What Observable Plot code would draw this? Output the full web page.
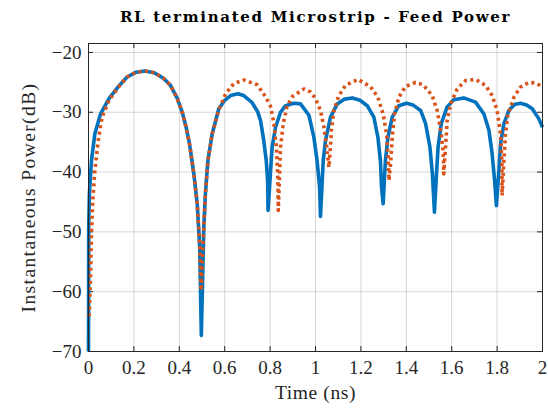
<!DOCTYPE html>
<html>
<head>
<meta charset="utf-8">
<script src="https://cdn.jsdelivr.net/npm/d3@7"></script>
<script src="https://cdn.jsdelivr.net/npm/@observablehq/plot@0.6"></script>
<style>
  html, body { margin: 0; padding: 0; background: #fff; }
  #chart svg { display: block; }
</style>
</head>
<body>
<div id="chart"></div>
<script>
const titleText = "RL terminated Microstrip - Feed Power";
const xLabel = "Time (ns)";
const yLabel = "Instantaneous Power(dB)";
const xTicks = [0, 0.2, 0.4, 0.6, 0.8, 1, 1.2, 1.4, 1.6, 1.8, 2];
const yTicks = [-70, -60, -50, -40, -30, -20];

// Blue (solid) series: time (ns), power (dB)
const blueTime = [0, 0.001, 0.004, 0.013, 0.028, 0.053, 0.09, 0.134, 0.17, 0.21, 0.248, 0.29, 0.33, 0.361, 0.39, 0.413, 0.43, 0.445, 0.464, 0.479, 0.49, 0.497,
  0.508, 0.515, 0.526, 0.545, 0.574, 0.6, 0.626, 0.658, 0.684, 0.721, 0.745, 0.758, 0.772, 0.783, 0.789, 0.791,
  0.809, 0.824, 0.846, 0.868, 0.904, 0.934, 0.971, 0.993, 1.007, 1.018, 1.022,
  1.034, 1.044, 1.066, 1.096, 1.128, 1.162, 1.196, 1.228, 1.257, 1.275, 1.286, 1.291, 1.298,
  1.308, 1.319, 1.338, 1.367, 1.401, 1.43, 1.463, 1.485, 1.504, 1.515, 1.524,
  1.533, 1.54, 1.554, 1.58, 1.609, 1.653, 1.705, 1.742, 1.764, 1.778, 1.789, 1.797,
  1.808, 1.815, 1.83, 1.852, 1.876, 1.903, 1.93, 1.955, 1.984, 2.0];
const bluePower = [-70, -49, -43.6, -38.1, -33.6, -30.3, -27.7, -25.6, -24.1, -23.3, -23.1, -23.4, -24.3, -25.5, -27.6, -30.0, -32.5, -35.3, -40.3, -45.3, -52.6, -67.3,
  -49.2, -43.6, -38.1, -33.6, -29.4, -28.0, -27.2, -26.9, -27.2, -28.4, -29.9, -31.4, -34.7, -38.1, -41.4, -46.4,
  -35.8, -32.5, -30.0, -28.9, -28.5, -28.6, -30.5, -34.2, -38.1, -42.5, -47.4,
  -38.1, -34.7, -30.8, -28.6, -27.8, -27.6, -28.0, -28.9, -30.8, -34.2, -38.1, -42.5, -45.3,
  -38.1, -34.2, -30.8, -28.9, -28.5, -28.8, -29.7, -31.9, -35.8, -40.3, -46.7,
  -40.3, -35.8, -31.9, -29.1, -27.9, -27.6, -28.3, -30.3, -33.0, -36.9, -41.4, -45.6,
  -39.7, -35.3, -31.9, -29.7, -28.7, -28.5, -28.8, -29.4, -31.1, -32.5];

// Orange (dotted) series: time (ns), power (dB)
const orangeTime = [0.003, 0.009, 0.013, 0.019, 0.028, 0.043, 0.06, 0.09, 0.134, 0.17, 0.21, 0.248, 0.29, 0.33, 0.361, 0.39, 0.413, 0.43, 0.445, 0.464, 0.479, 0.49, 0.496,
  0.508, 0.515, 0.526, 0.545, 0.574, 0.604, 0.64, 0.684, 0.743, 0.78, 0.802, 0.816, 0.828, 0.834, 0.836,
  0.846, 0.858, 0.875, 0.9, 0.949, 0.978, 1.0, 1.022, 1.037, 1.048, 1.059,
  1.066, 1.07, 1.081, 1.103, 1.132, 1.187, 1.242, 1.275, 1.298, 1.313, 1.32, 1.324,
  1.333, 1.338, 1.348, 1.367, 1.396, 1.441, 1.474, 1.514, 1.536, 1.554, 1.563, 1.565,
  1.573, 1.58, 1.595, 1.624, 1.661, 1.705, 1.749, 1.778, 1.8, 1.815, 1.821, 1.822,
  1.83, 1.837, 1.847, 1.874, 1.903, 1.94, 1.969, 1.998];
const orangePower = [-64.1, -57.6, -50.3, -44.7, -39.7, -34.7, -30.8, -28.0, -25.7, -24.1, -23.3, -23.1, -23.4, -24.3, -25.5, -27.6, -30.0, -32.5, -35.3, -40.3, -45.3, -52.6, -59.8,
  -49.2, -43.6, -38.1, -33.6, -29.6, -26.9, -25.2, -24.6, -25.4, -27.4, -29.0, -31.6, -36.0, -40.8, -46.4,
  -35.8, -31.9, -28.9, -27.3, -26.1, -26.6, -27.7, -29.7, -32.5, -35.3, -39.2,
  -35.8, -33.0, -29.7, -27.2, -25.5, -24.5, -25.7, -27.5, -30.3, -33.6, -37.5, -41.4,
  -37.5, -34.2, -30.3, -27.5, -25.7, -25.0, -25.4, -27.2, -29.7, -33.6, -36.9, -40.3,
  -35.8, -31.4, -28.6, -26.1, -24.7, -24.5, -25.5, -27.2, -29.7, -33.6, -38.1, -43.9,
  -38.1, -33.6, -30.5, -27.5, -25.8, -25.0, -25.1, -25.7];

const blue = blueTime.map((t, i) => ({t, p: bluePower[i]}));
const orange = orangeTime.map((t, i) => ({t, p: orangePower[i]}));

const serif = "'Liberation Serif', serif";
const minus = d => d < 0 ? "\u2212" + Math.abs(d) : String(d);
const W = 548, H = 408, mT = 43, mB = 57, mL = 88, mR = 6;
const frameH = H - mT - mB, frameW = W - mL - mR;
const tickLen = 5;

const chart = Plot.plot({
  width: W,
  height: H,
  marginTop: mT,
  marginBottom: mB,
  marginLeft: mL,
  marginRight: mR,
  style: {fontFamily: serif, background: "#fff", overflow: "visible"},
  x: {domain: [0, 2], ticks: xTicks},
  y: {domain: [-70, -18.5], ticks: yTicks},
  marks: [
    Plot.gridX(xTicks, {stroke: "#000", strokeOpacity: 0.16, strokeWidth: 1}),
    Plot.gridY(yTicks, {stroke: "#000", strokeOpacity: 0.16, strokeWidth: 1}),
    // inward tick marks on all four sides
    Plot.tickX(xTicks, {x: d => d, insetTop: frameH - tickLen, stroke: "#262626"}),
    Plot.tickX(xTicks, {x: d => d, insetBottom: frameH - tickLen, stroke: "#262626"}),
    Plot.tickY(yTicks, {y: d => d, insetRight: frameW - tickLen, stroke: "#262626"}),
    Plot.tickY(yTicks, {y: d => d, insetLeft: frameW - tickLen, stroke: "#262626"}),
    Plot.axisX(xTicks, {tickSize: 0, tickPadding: 9, fontSize: 19, fontFamily: serif, fill: "#262626", label: null, tickFormat: d => String(d)}),
    Plot.axisY(yTicks, {tickSize: 0, tickPadding: 7, fontSize: 19, fontFamily: serif, fill: "#262626", label: null, tickFormat: minus}),
    Plot.line(blue, {x: "t", y: "p", stroke: "#0072BD", strokeWidth: 3.6, strokeLinejoin: "round", strokeLinecap: "butt"}),
    Plot.line(orange, {x: "t", y: "p", stroke: "#D95319", strokeWidth: 3.6, strokeDasharray: "3,3.5", strokeLinecap: "butt"}),
    Plot.frame({stroke: "#262626", strokeWidth: 1}),
    Plot.text([titleText], {frameAnchor: "top", dy: -32, fontSize: 15, fontWeight: "bold", fill: "#000", fontFamily: "'DejaVu Serif', serif"}),
    Plot.text([xLabel], {frameAnchor: "bottom", dy: 47, fontSize: 19.5, fontFamily: serif, fill: "#262626"}),
    Plot.text([yLabel], {frameAnchor: "left", textAnchor: "middle", dx: -60, rotate: -90, fontSize: 19.5, fontFamily: serif, fill: "#262626"})
  ]
});

// letter spacing for the wide TeX-like title and axis labels
const spacing = new Map([[titleText, "1.7px"], [xLabel, "0.6px"], [yLabel, "1.4px"]]);
d3.select(chart).selectAll("text").each(function() {
  const s = spacing.get(this.textContent);
  if (s) this.style.letterSpacing = s;
});
document.getElementById("chart").appendChild(chart);
</script>
</body>
</html>
